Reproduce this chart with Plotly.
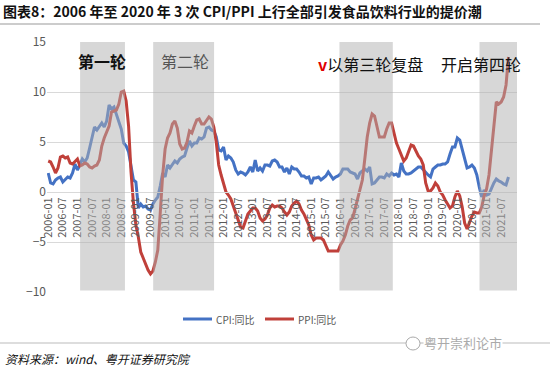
import plotly.graph_objects as go

# Monthly data 2006-01 .. 2021-10 (YoY, %)
cpi = [1.9, 0.9, 0.8, 1.2, 1.4, 1.5, 1.0, 1.3, 1.5, 1.4, 1.9, 2.8,
       2.2, 2.7, 3.3, 3.0, 3.4, 4.4, 5.6, 6.5, 6.2, 6.5, 6.9, 6.5,
       7.1, 8.7, 8.3, 8.5, 7.7, 7.1, 6.3, 4.9, 4.6, 4.0, 2.4, 1.2,
       1.0, -1.6, -1.2, -1.5, -1.4, -1.7, -1.8, -1.2, -0.8, -0.5, 0.6, 1.9,
       1.5, 2.7, 2.4, 2.8, 3.1, 2.9, 3.3, 3.5, 3.6, 4.4, 5.1, 4.6,
       4.9, 4.9, 5.4, 5.3, 5.5, 6.4, 6.5, 6.2, 6.1, 5.5, 4.2, 4.1,
       4.5, 3.2, 3.6, 3.4, 3.0, 2.2, 1.8, 2.0, 1.9, 1.7, 2.0, 2.5,
       2.0, 3.2, 2.1, 2.4, 2.1, 2.7, 2.7, 2.6, 3.1, 3.2, 3.0, 2.5,
       2.5, 2.0, 2.4, 1.8, 2.5, 2.3, 2.3, 2.0, 1.6, 1.6, 1.4, 1.5,
       0.8, 1.4, 1.4, 1.5, 1.2, 1.4, 1.6, 2.0, 1.6, 1.3, 1.5, 1.6,
       1.8, 2.3, 2.3, 2.3, 2.0, 1.9, 1.8, 1.3, 1.9, 2.1, 2.3, 2.1,
       2.5, 0.8, 0.9, 1.2, 1.5, 1.5, 1.4, 1.8, 1.6, 1.9, 1.7, 1.8,
       1.5, 2.9, 2.1, 1.8, 1.8, 1.9, 2.1, 2.3, 2.5, 2.5, 2.2, 1.9,
       1.7, 1.5, 2.3, 2.5, 2.7, 2.7, 2.8, 2.8, 3.0, 3.8, 4.5, 4.5,
       5.4, 5.2, 4.3, 3.3, 2.4, 2.5, 2.7, 2.4, 1.7, 0.5, -0.5, 0.2,
       -0.3, -0.2, 0.4, 0.9, 1.3, 1.1, 1.0, 0.8, 0.7, 1.5]

ppi = [3.1, 3.0, 2.5, 1.9, 2.4, 3.5, 3.6, 3.4, 3.5, 2.9, 2.8, 3.1,
       3.3, 2.6, 2.7, 2.9, 2.8, 2.5, 2.4, 2.6, 2.7, 3.2, 4.6, 5.4,
       6.1, 6.6, 8.0, 8.1, 8.2, 8.8, 10.0, 10.1, 9.1, 6.6, 2.0, -1.1,
       -3.3, -4.5, -6.0, -6.6, -7.2, -7.8, -8.2, -7.9, -7.0, -5.8, -2.1, 1.7,
       4.3, 5.4, 5.9, 6.8, 7.1, 6.4, 4.8, 4.3, 4.4, 5.0, 6.1, 5.9,
       6.6, 7.2, 7.3, 6.8, 6.8, 7.1, 7.5, 7.3, 6.5, 5.0, 2.7, 1.7,
       0.7, 0.0, -0.3, -0.7, -1.4, -2.1, -2.9, -3.5, -3.6, -2.8, -2.2, -1.9,
       -1.6, -1.6, -1.9, -2.6, -2.9, -2.7, -2.3, -1.6, -1.3, -1.5, -1.4, -1.4,
       -1.6, -2.0, -2.3, -2.0, -1.4, -1.1, -0.9, -1.2, -1.8, -2.2, -2.7, -3.3,
       -4.3, -4.8, -4.6, -4.6, -4.6, -4.8, -5.4, -5.9, -5.9, -5.9, -5.9, -5.9,
       -5.3, -4.9, -4.3, -3.4, -2.8, -2.6, -1.7, -0.8, 0.1, 1.2, 3.3, 5.5,
       6.9, 7.8, 7.6, 6.4, 5.5, 5.5, 5.5, 6.3, 6.9, 6.9, 5.8, 4.9,
       4.3, 3.7, 3.1, 3.4, 4.1, 4.7, 4.6, 4.1, 3.6, 3.3, 2.7, 0.9,
       0.1, 0.1, 0.4, 0.9, 0.6, 0.0, -0.3, -0.8, -1.2, -1.6, -1.4, -0.5,
       0.1, -0.4, -1.5, -3.1, -3.7, -3.0, -2.4, -2.0, -2.1, -2.1, -1.5, -0.4,
       0.3, 1.7, 4.4, 6.8, 9.0, 8.8, 9.0, 9.5, 10.7, 13.5]

months = [f"{y}-{m:02d}" for y in range(2006, 2022) for m in range(1, 13)][:len(cpi)]
tick_labels = [f"{y}-{m:02d}" for y in range(2006, 2022) for m in (1, 7)]
series_names = ["CPI:同比", "PPI:同比"]
series_colors = ["#4472C4", "#C0403A"]

# shaded rounds (month index ranges)
band_starts = [13.1, 43.1, 119.6, 177.1]
band_ends = [31.5, 68.1, 141.5, 192.5]

x = list(range(len(cpi)))
tickvals = [months.index(t) for t in tick_labels if t in months]
ticktext = [t for t in tick_labels if t in months]

# layout in pixels
W, H = 550, 367
L, R, T, B = 47, 517, 42, 292
PW, PH = R - L, B - T


def px(xp):
    return (xp - L) / PW


def py(yp):
    return (B - yp) / PH


FONT = "Noto Sans CJK SC"
fig = go.Figure()
for vals, name, col in zip([cpi, ppi], series_names, series_colors):
    fig.add_trace(go.Scatter(x=x, y=vals, mode="lines", name=name,
                             line=dict(color=col, width=3)))

for s, e in zip(band_starts, band_ends):
    fig.add_shape(type="rect", xref="x", yref="y", x0=s, x1=e, y0=-9.85, y1=15,
                  fillcolor="rgba(176,176,176,0.5)", line=dict(width=0), layer="above")

ann_font = dict(family=FONT, size=16, color="#111111")
fig.add_annotation(x=22.1, y=13.1, text="<b>第一轮</b>", showarrow=False, font=ann_font)
fig.add_annotation(x=56.2, y=13.1, text="第二轮", showarrow=False,
                   font=dict(family=FONT, size=16, color="#555555"))
fig.add_annotation(x=132.2, y=12.8, text="<b><span style='color:#E00000'>v</span></b>以第三轮复盘",
                   showarrow=False, font=ann_font)
fig.add_annotation(x=177.7, y=12.8, text="开启第四轮", showarrow=False, font=ann_font)

# title
fig.add_annotation(xref="paper", yref="paper", x=px(1), y=py(11),
                   xanchor="left", yanchor="middle", showarrow=False,
                   text="<b>图表8：2006 年至 2020 年 3 次 CPI/PPI 上行全部引发食品饮料行业的提价潮</b>",
                   font=dict(family=FONT, size=14, color="#111111"))
fig.add_shape(type="line", xref="paper", yref="paper", x0=px(0), x1=px(540),
              y0=py(24), y1=py(24), line=dict(color="#BBBBBB", width=1.5))

# manual legend
leg_items = [(183, 212, 214), (265, 294, 296)]
for (x0, x1, xt), name, col in zip(leg_items, series_names, series_colors):
    fig.add_shape(type="line", xref="paper", yref="paper", x0=px(x0), x1=px(x1),
                  y0=py(319), y1=py(319), line=dict(color=col, width=3))
    fig.add_annotation(xref="paper", yref="paper", x=px(xt), y=py(319), xanchor="left",
                       yanchor="middle", showarrow=False, text=name,
                       font=dict(family=FONT, size=10, color="#595959"))

# bottom rule and source
fig.add_shape(type="line", xref="paper", yref="paper", x0=px(0), x1=px(550),
              y0=py(343), y1=py(343), line=dict(color="#BBBBBB", width=1))
fig.add_shape(type="circle", xref="paper", yref="paper", x0=px(406), x1=px(420),
              y0=py(350), y1=py(337), fillcolor="white", line=dict(color="#AAAAAA", width=1))
fig.add_annotation(xref="paper", yref="paper", x=px(423), y=py(342), xanchor="left",
                   yanchor="middle", showarrow=False, text="粤开崇利论市", bgcolor="white",
                   borderpad=0, font=dict(family=FONT, size=13, color="#AAAAAA"))
fig.add_annotation(xref="paper", yref="paper", x=px(3), y=py(358),
                   xanchor="left", yanchor="middle", showarrow=False,
                   text="<i>资料来源：wind、粤开证券研究院</i>",
                   font=dict(family=FONT, size=12, color="#111111"))

fig.update_layout(
    width=W, height=H,
    margin=dict(l=L, r=W - R, t=T, b=H - B, autoexpand=False),
    paper_bgcolor="white", plot_bgcolor="white",
    font=dict(family=FONT, color="#595959"),
    showlegend=False,
    hovermode=False,
    xaxis=dict(range=[-0.5, 192.5], tickvals=tickvals, ticktext=ticktext, tickangle=-90,
               tickfont=dict(size=11, color="#595959"), showgrid=False,
               anchor="free", position=0.4, showline=True, linecolor="#D9D9D9",
               ticks="", zeroline=False, automargin=False),
    yaxis=dict(range=[-10, 15], tickvals=[-10, -5, 0, 5, 10, 15],
               tickfont=dict(size=12, color="#595959"), showgrid=True,
               gridcolor="#D9D9D9", gridwidth=1, zeroline=False, ticks="",
               showline=False, automargin=False),
)

fig.write_html("out.html", config={"displayModeBar": False, "staticPlot": True},
               post_script="document.body.style.margin='0';document.body.style.overflow='hidden';")
